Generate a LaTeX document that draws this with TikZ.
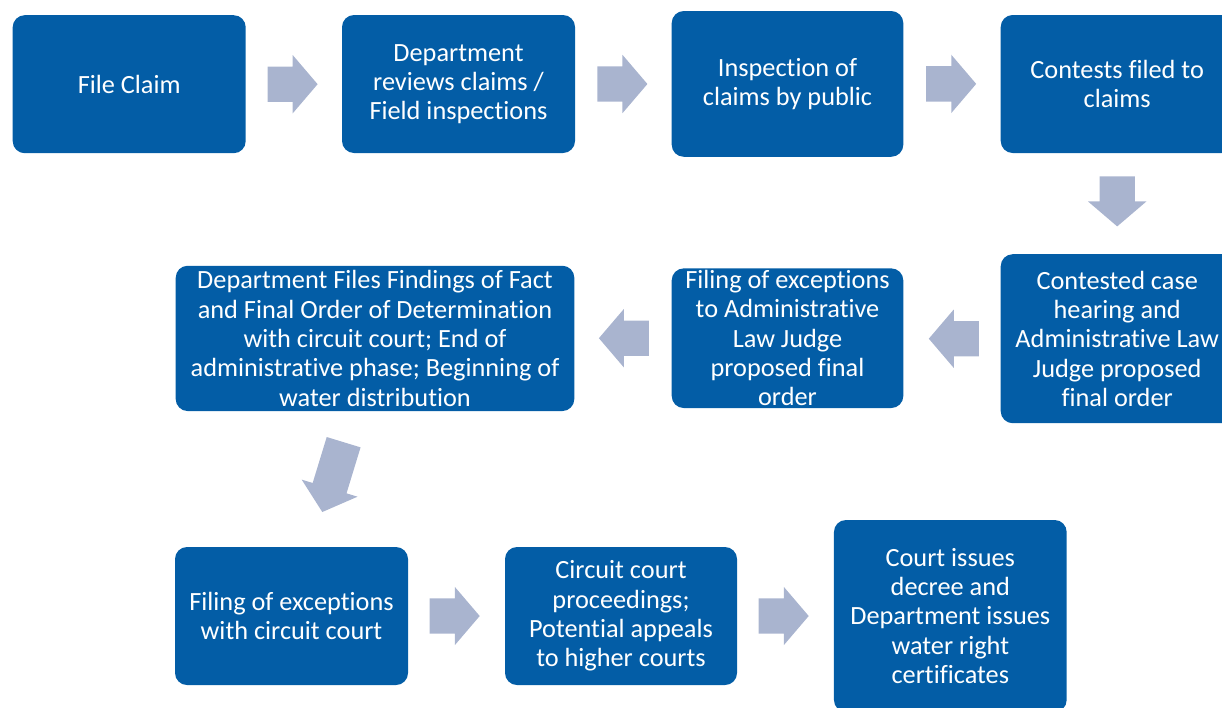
\documentclass[tikz,border=0pt]{standalone}
\usepackage{fontspec}
\setmainfont{Carlito}[Ligatures={NoCommon}]
\usetikzlibrary{shapes.arrows,calc}
\definecolor{boxblue}{RGB}{3,93,166}
\definecolor{arrowgray}{RGB}{169,180,207}
\tikzset{
  stepbox/.style={draw=none, fill=boxblue, rounded corners=12pt, text=white,
    align=center, inner sep=2pt, font=\fontsize{26.3pt}{29.3pt}\selectfont},
  blockarrow/.style={single arrow, draw=none, fill=arrowgray, inner xsep=0pt,
    inner ysep=17.5pt, single arrow head extend=11.5pt, single arrow tip angle=99,
    minimum height=50pt, anchor=tail}
}
\begin{document}
\begin{tikzpicture}[x=1pt,y=-1pt]
\useasboundingbox (0,0) rectangle (1222,707);
\clip (0,0) rectangle (1222,707);
\node[stepbox, minimum width=233pt, minimum height=138pt] (b1) at (129.2,84.2) {File Claim};
\node[stepbox, minimum width=233pt, minimum height=138pt] (b2) at (458.5,84) {Department\\reviews claims /\\Field inspections};
\node[stepbox, minimum width=231.6pt, minimum height=145.7pt] (b3) at (787.5,83.9) {Inspection of\\claims by public};
\node[stepbox, minimum width=233pt, minimum height=138pt] (b4) at (1117.2,84) {Contests filed to\\claims};
\node[stepbox, minimum width=233pt, minimum height=169pt] (b5) at (1117.2,338.7) {Contested case\\hearing and\\Administrative Law\\Judge proposed\\final order};
\node[stepbox, minimum width=231.6pt, minimum height=138.3pt] (b6) at (787.5,338.2) {Filing of exceptions\\to Administrative\\Law Judge\\proposed final\\order};
\node[stepbox, minimum width=398.6pt, minimum height=145.3pt] (b7) at (375,338.4) {Department Files Findings of Fact\\and Final Order of Determination\\with circuit court; End of\\administrative phase; Beginning of\\water distribution};
\node[stepbox, minimum width=233pt, minimum height=138pt] (b8) at (291.5,616) {Filing of exceptions\\with circuit court};
\node[stepbox, minimum width=232pt, minimum height=138pt] (b9) at (621,616) {Circuit court\\proceedings;\\Potential appeals\\to higher courts};
\node[stepbox, minimum width=232.7pt, minimum height=192pt] (b10) at (950.3,616) {Court issues\\decree and\\Department issues\\water right\\certificates};

\node[blockarrow] (a1) at ($(b1.east)+(21.5,0)$) {};
\node[blockarrow] (a2) at ($(b2.east)+(22,0)$) {};
\node[blockarrow] (a3) at ($(b3.east)+(22.5,0)$) {};
\node[blockarrow, rotate=-90] (a4) at ($(b4.south)+(0,23)$) {};
\node[blockarrow, rotate=180] (a5) at ($(b5.west)+(-21.5,0)$) {};
\node[blockarrow, rotate=180] (a6) at ($(b6.west)+(-22.4,0)$) {};
\node[blockarrow, rotate=253, minimum height=73pt] (a7) at (343.7,442) {};
\node[blockarrow] (a8) at ($(b8.east)+(21.3,0)$) {};
\node[blockarrow] (a9) at ($(b9.east)+(21.3,0)$) {};
\end{tikzpicture}
\end{document}
